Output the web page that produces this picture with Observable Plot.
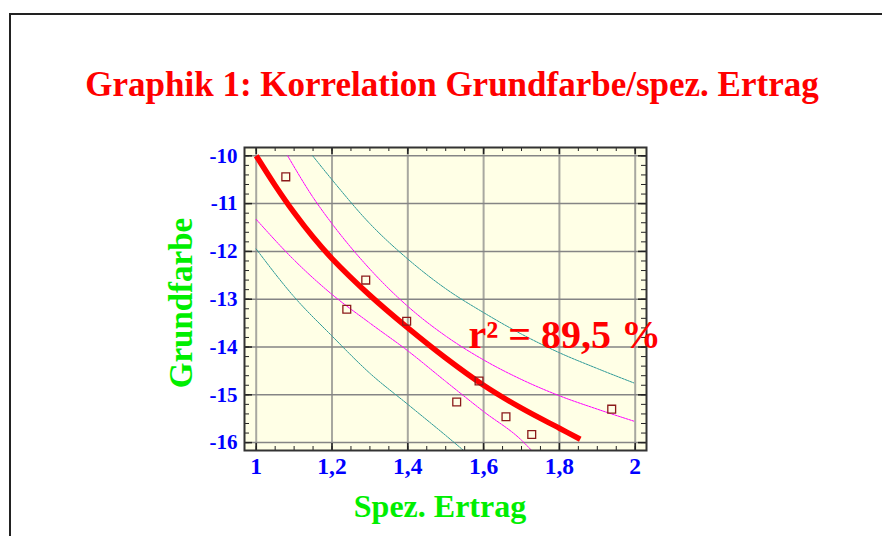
<!DOCTYPE html>
<html><head><meta charset="utf-8">
<script src="https://cdn.jsdelivr.net/npm/d3@7"></script>
<script src="https://cdn.jsdelivr.net/npm/@observablehq/plot@0.6"></script>
<style>
body{margin:0;width:882px;height:536px;overflow:hidden;background:#fff;position:relative;font-family:"Liberation Serif","Times New Roman",serif;}
#border{position:absolute;left:9px;top:13px;width:900px;height:600px;border:2px solid #222;box-sizing:border-box;}
#chart{position:absolute;left:0;top:0;}
.lbl{position:absolute;font-weight:bold;white-space:nowrap;line-height:32px;transform:translate(-50%,-50%);}
#title{left:452px;top:85px;color:#ff0000;font-size:35px;}
#xlabel{left:440px;top:506px;color:#00ee00;font-size:32px;}
#ylabel{left:181px;top:303px;color:#00ee00;font-size:33px;transform:translate(-50%,-50%) rotate(-90deg);}
</style></head>
<body>
<div id="border"></div>
<div id="chart"></div>
<div class="lbl" id="title">Graphik 1: Korrelation Grundfarbe/spez. Ertrag</div>
<div class="lbl" id="xlabel">Spez. Ertrag</div>
<div class="lbl" id="ylabel">Grundfarbe</div>
<script>
// observed points
const obsX = [1.078, 1.239, 1.289, 1.397, 1.529, 1.588, 1.659, 1.727, 1.938];
const obsY = [-10.44, -13.21, -12.60, -13.46, -15.15, -14.71, -15.46, -15.83, -15.30];
// fitted curve
const fitX = [1.0, 1.05, 1.1, 1.15, 1.2, 1.3, 1.4, 1.5, 1.6, 1.7, 1.8, 1.855];
const fitY = [-10.0, -10.62, -11.19, -11.70, -12.15, -12.92, -13.6, -14.23, -14.8, -15.28, -15.7, -15.93];
// inner limits (magenta)
const innerUpX = [1.083, 1.15, 1.2, 1.3, 1.4, 1.5, 1.6, 1.7, 1.8, 1.9, 1.996];
const innerUpY = [-10.0, -10.87, -11.42, -12.37, -13.15, -13.77, -14.27, -14.68, -15.02, -15.3, -15.55];
const innerLoX = [1.0, 1.1, 1.2, 1.3, 1.4, 1.5, 1.6, 1.7, 1.725];
const innerLoY = [-11.33, -12.18, -12.9, -13.5, -14.08, -14.72, -15.35, -15.95, -16.15];
// outer limits (teal)
const outerUpX = [1.149, 1.2, 1.3, 1.4, 1.5, 1.6, 1.7, 1.8, 1.9, 1.996];
const outerUpY = [-10.0, -10.5, -11.42, -12.16, -12.78, -13.28, -13.73, -14.12, -14.45, -14.75];
const outerLoX = [1.0, 1.1, 1.2, 1.3, 1.4, 1.5, 1.545];
const outerLoY = [-11.95, -12.95, -13.77, -14.55, -15.2, -15.85, -16.15];
// ticks
const xTicks = [1, 1.2, 1.4, 1.6, 1.8, 2];
const yTicks = [-10, -11, -12, -13, -14, -15, -16];
const xMinor = d3.range(1, 2.001, 0.05);
const yMinor = d3.range(-16, -9.99, 0.2);
const annot = [{x: 1.56, y: -13.75, t: "r² = 89,5 %"}];

const zip = (xs, ys) => xs.map((x, i) => ({x, y: ys[i]}));
const fmt = d => String(d).replace(".", ",");
const W = 882, H = 536, mL = 244, mR = 236, mT = 147, mB = 86;
const fw = W - mL - mR, fh = H - mT - mB;
const font = {fontFamily: "Liberation Serif, Times New Roman, serif", fontWeight: "bold"};

const plot = Plot.plot({
  width: W, height: H,
  marginLeft: mL, marginRight: mR, marginTop: mT, marginBottom: mB,
  x: {domain: [0.9691, 2.0298], axis: null},
  y: {domain: [-16.165, -9.826], axis: null},
  style: {background: "transparent", overflow: "visible"},
  marks: [
    Plot.frame({fill: "#ffffe6", stroke: "none"}),
    Plot.ruleX(xTicks, {stroke: "#a8a8a0", strokeWidth: 2}),
    Plot.ruleY(yTicks, {stroke: "#858585", strokeWidth: 1.5}),
    Plot.tickX(xMinor, {x: d => d, stroke: "#222", strokeWidth: 1, insetTop: fh - 4}),
    Plot.tickX(xMinor, {x: d => d, stroke: "#222", strokeWidth: 1, insetBottom: fh - 4}),
    Plot.tickX(xTicks, {x: d => d, stroke: "#222", strokeWidth: 1.5, insetTop: fh - 7}),
    Plot.tickX(xTicks, {x: d => d, stroke: "#222", strokeWidth: 1.5, insetBottom: fh - 7}),
    Plot.tickY(yMinor, {y: d => d, stroke: "#222", strokeWidth: 1, insetRight: fw - 5}),
    Plot.tickY(yMinor, {y: d => d, stroke: "#222", strokeWidth: 1, insetLeft: fw - 5}),
    Plot.tickY(yTicks, {y: d => d, stroke: "#222", strokeWidth: 1.5, insetRight: fw - 8}),
    Plot.tickY(yTicks, {y: d => d, stroke: "#222", strokeWidth: 1.5, insetLeft: fw - 8}),
    Plot.line(zip(outerUpX, outerUpY), {x: "x", y: "y", stroke: "#2e9a98", strokeWidth: 1, strokeDasharray: "2,1", curve: "monotone-x"}),
    Plot.line(zip(outerLoX, outerLoY), {x: "x", y: "y", stroke: "#2e9a98", strokeWidth: 1, strokeDasharray: "2,1", curve: "monotone-x"}),
    Plot.line(zip(innerUpX, innerUpY), {x: "x", y: "y", stroke: "#ff00ff", strokeWidth: 1, strokeDasharray: "2,1", curve: "monotone-x"}),
    Plot.line(zip(innerLoX, innerLoY), {x: "x", y: "y", stroke: "#ff00ff", strokeWidth: 1, strokeDasharray: "2,1", curve: "monotone-x"}),
    Plot.line(zip(fitX, fitY), {x: "x", y: "y", stroke: "#ff0000", strokeWidth: 5.5, curve: "catmull-rom", strokeLinecap: "butt"}),
    Plot.dot(zip(obsX, obsY), {x: "x", y: "y", symbol: "square", r: 4.4, stroke: "#8b1a1a", strokeWidth: 1.3, fill: "none"}),
    Plot.frame({stroke: "#333", strokeWidth: 2}),
    Plot.text(xTicks, {x: d => d, frameAnchor: "bottom", dy: 23, text: fmt, fill: "#0000ff", fontSize: 23.5, ...font}),
    Plot.text(yTicks, {y: d => d, frameAnchor: "left", dx: -7, textAnchor: "end", text: d => String(d), fill: "#0000ff", fontSize: 21, ...font}),
    Plot.text(annot, {x: "x", y: "y", text: "t", textAnchor: "start", fill: "#ff0000", fontSize: 40, ...font})
  ]
});
document.getElementById("chart").appendChild(plot);
</script>
</body></html>
